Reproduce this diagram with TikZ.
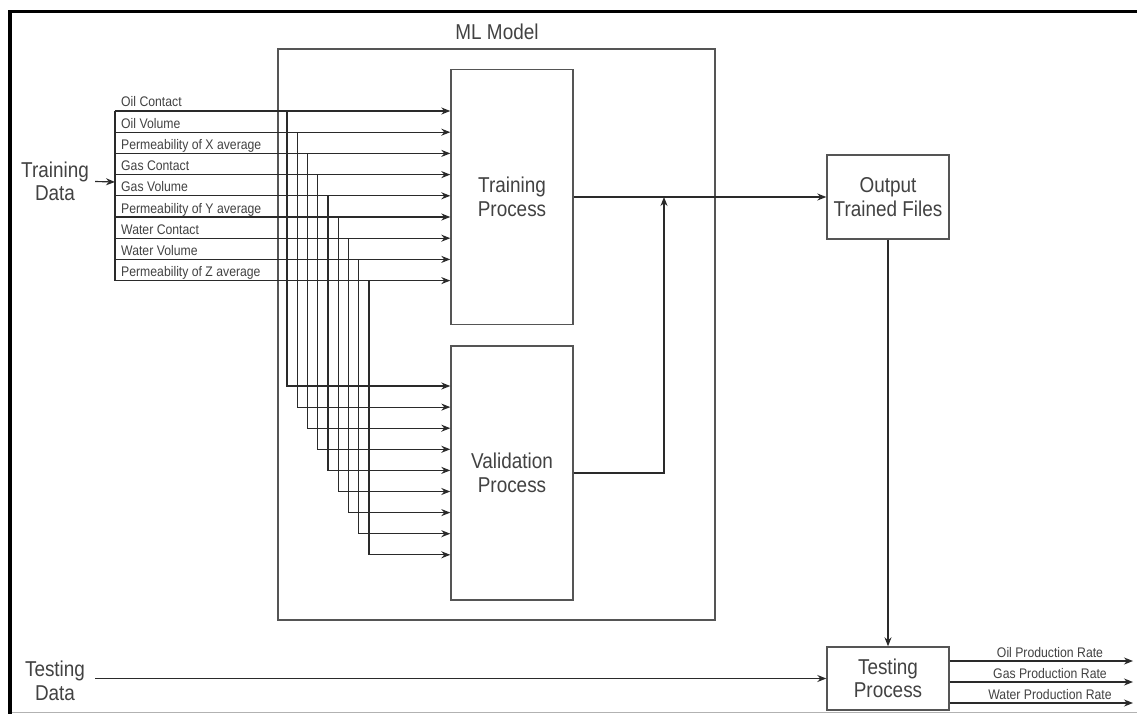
\documentclass[tikz,border=0pt]{standalone}
\usepackage{fontspec}
\setmainfont{Liberation Sans}[FakeStretch=0.88]
\usetikzlibrary{arrows.meta}
\definecolor{txt}{HTML}{424242}
\definecolor{boxc}{HTML}{555555}
\definecolor{linec}{HTML}{2A2A2A}
\newcommand\bigfnt{\fontsize{21.5}{23.5}\selectfont}
\newcommand\smlfnt{\fontsize{13.9}{15}\selectfont}
\begin{document}
\begin{tikzpicture}[x=1pt,y=-1pt,
  box/.style={draw=boxc,line width=1.4pt,inner sep=0pt,text=txt,font=\bigfnt,align=center},
  biglab/.style={text=txt,font=\bigfnt,inner sep=0pt,align=center},
  lab/.style={text=txt,font=\smlfnt,inner sep=0pt},
  conn/.style={draw=linec,line width=1.15pt},
  arr/.style={conn,-{Stealth[length=9pt,width=7pt]}}
]
\useasboundingbox (0,0) rectangle (1137,714);
\fill[white] (0,0) rectangle (1137,714);
% frame
\draw[black,line width=3.5pt] (10,714) -- (10,11.5) -- (1137,11.5);
\draw[gray!60,line width=1pt] (12,712.5) -- (1137,712.5);

% boxes
\node[box,minimum width=437pt,minimum height=571pt] (ml) at (496.5,334.5) {};
\node[biglab] (mllab) at (497,32) {ML Model};
\node[box,minimum width=122pt,minimum height=255pt] (train) at (512,197) {Training\\Process};
\node[box,minimum width=122pt,minimum height=254pt] (valid) at (512,473) {Validation\\Process};
\node[box,minimum width=122pt,minimum height=84pt] (out) at (888,197) {Output\\Trained Files};
\node[box,minimum width=122pt,minimum height=63pt] (test) at (888,678.5) {Testing\\Process};

\node[biglab] (td) at (55,181.5) {Training\\Data};
\node[biglab] (tsd) at (55,681) {Testing\\Data};

% inputs
\foreach \i/\t in {1/Oil Contact,2/Oil Volume,3/Permeability of X average,4/Gas Contact,5/Gas Volume,6/Permeability of Y average,7/Water Contact,8/Water Volume,9/Permeability of Z average}{
  \pgfmathsetmacro\yy{111+(\i-1)*21.2}
  \pgfmathsetmacro\xx{287+(\i-1)*10.25}
  \pgfmathsetmacro\vv{386+(\i-1)*21.1}
  \coordinate (in\i) at (115,\yy);
  \coordinate (dn\i) at (\xx,\yy);
  \coordinate (bd\i) at (\xx,\vv);
  \node[lab,anchor=base west] (l\i) at (121,\yy-4) {\t};
  \draw[arr] (in\i) -- (in\i -| train.west);
  \draw[arr] (dn\i) -- (bd\i) -- (bd\i -| valid.west);
}
\draw[conn] (in1) -- (in9);
\coordinate (busin) at (115,182);
\draw[arr] ([xshift=6pt]td.east) -- (busin);

% flows
\draw[arr] (train.east) -- (out.west);
\coordinate (join) at (664,197);
\draw[arr] (valid.east) -| (join);
\draw[arr] (out.south) -- (test.north);
\coordinate (tsdout) at (95,678.5);
\draw[arr] (tsdout) -- (test.west);

% outputs
\foreach \j/\t/\y in {1/Oil Production Rate/661,2/Gas Production Rate/682,3/Water Production Rate/703}{
  \coordinate (o\j) at (1133,\y);
  \draw[arr] (test.east |- o\j) -- (o\j);
  \node[lab,anchor=base] (ol\j) at (1050,\y-4) {\t};
}
\end{tikzpicture}
\end{document}
